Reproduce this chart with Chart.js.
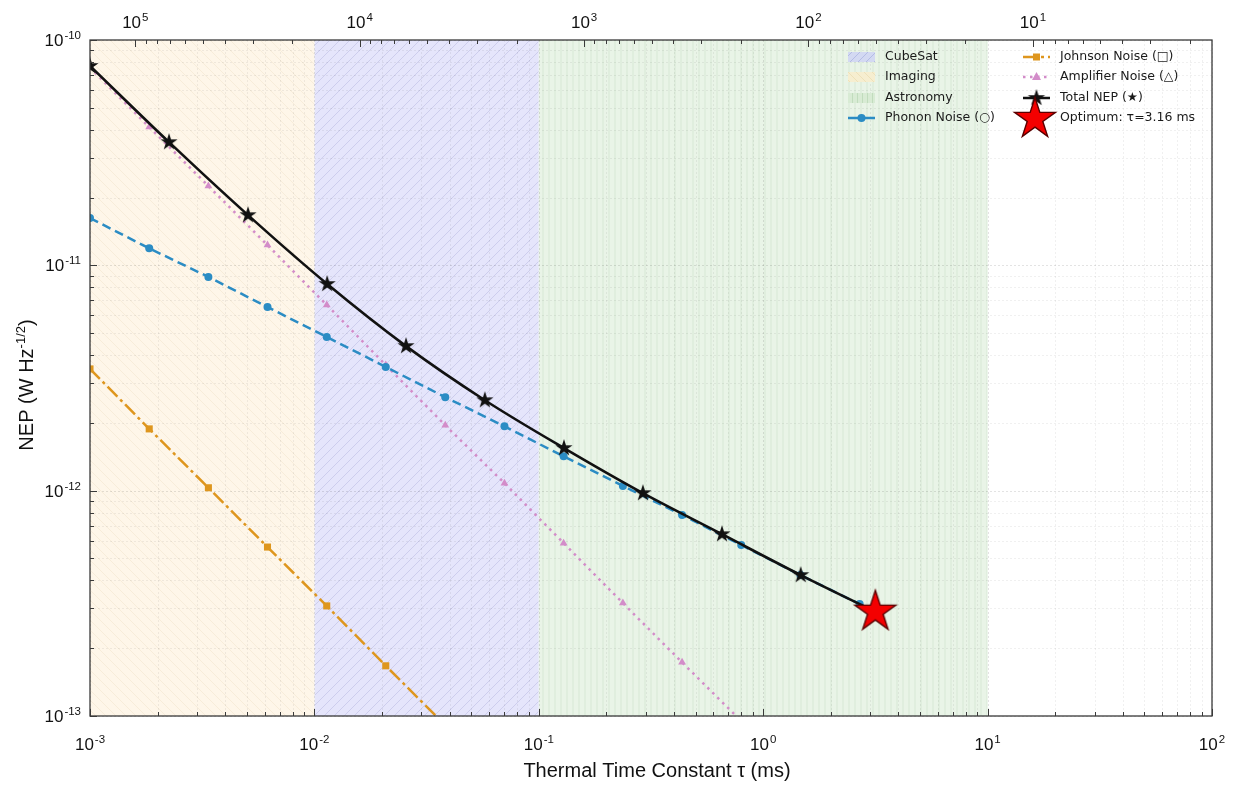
<!DOCTYPE html>
<html>
<head>
<meta charset="utf-8">
<script src="https://cdn.jsdelivr.net/npm/chart.js@4/dist/chart.umd.min.js"></script>
<style>
  html, body { margin: 0; padding: 0; background: #fff; }
  #wrap { width: 1235px; height: 786px; }
</style>
</head>
<body>
<div id="wrap"><canvas id="chart" width="1235" height="786"></canvas></div>
<script>
// total NEP, read at its star markers (tau in ms)
const tauTotal = [1e-3, 2.25e-3, 5.06e-3, 1.14e-2, 2.56e-2, 5.75e-2, 0.1295, 0.291, 0.655, 1.47, 3.16];
const nepTotal = [7.67e-11, 3.52e-11, 1.67e-11, 8.26e-12, 4.38e-12, 2.52e-12, 1.545e-12, 9.75e-13, 6.41e-13, 4.22e-13, 2.9e-13];

// the noise terms share their own marker positions
const tauNoise = [1e-3, 1.836e-3, 3.37e-3, 6.18e-3, 1.135e-2, 2.08e-2, 3.83e-2, 7.03e-2, 0.129, 0.237, 0.435, 0.798, 1.465, 2.69, 3.16];
const nepPhonon = [1.62e-11, 1.19e-11, 8.88e-12, 6.53e-12, 4.81e-12, 3.54e-12, 2.60e-12, 1.93e-12, 1.42e-12, 1.05e-12, 7.79e-13, 5.74e-13, 4.22e-13, 3.14e-13, 2.9e-13];
const nepAmplifier = [7.55e-11, 4.11e-11, 2.25e-11, 1.23e-11, 6.67e-12, 3.61e-12, 1.95e-12, 1.08e-12, 5.85e-13, 3.17e-13, 1.73e-13, 9.5e-14, 5.2e-14, 2.8e-14, 2.4e-14];
const nepJohnson = [3.47e-12, 1.88e-12, 1.03e-12, 5.62e-13, 3.08e-13, 1.67e-13, 9.1e-14, 4.9e-14];

const optimumTau = 3.16;
const optimumNep = 2.9e-13;

// application bands (ms)
const regionNames = ['CubeSat', 'Imaging', 'Astronomy'];
const regionFrom = [1e-2, 1e-3, 1e-1];
const regionTo = [1e-1, 1e-2, 1e1];

// tick exponents
const xExps = [-3, -2, -1, 0, 1, 2];
const yExps = [-13, -12, -11, -10];
const freqExps = [5, 4, 3, 2, 1];

const TAU_MIN = 1e-3, TAU_MAX = 1e2;
// top axis: f = 1 / (2 pi tau), tau in ms
const F_MIN = 1000 / (2 * Math.PI * TAU_MAX);
const F_MAX = 1000 / (2 * Math.PI * TAU_MIN);

const BLUE = '#2b8cc4', ORANGE = '#de961e', PINK = '#d38cc9', BLACK = '#111';

const ctx = document.getElementById('chart').getContext('2d');

function makeStar(r, fill, stroke, lw) {
  const pad = Math.ceil(lw) + 1;
  const size = Math.ceil(r) * 2 + pad * 2;
  const c = document.createElement('canvas');
  c.width = size; c.height = size;
  const g = c.getContext('2d');
  const cx = size / 2, cy = size / 2;
  g.beginPath();
  for (let i = 0; i < 10; i++) {
    const rr = i % 2 ? r * 0.382 : r;
    const a = -Math.PI / 2 + i * Math.PI / 5;
    const px = cx + rr * Math.cos(a), py = cy + rr * Math.sin(a);
    if (i) g.lineTo(px, py); else g.moveTo(px, py);
  }
  g.closePath();
  g.fillStyle = fill;
  g.fill();
  if (lw) { g.lineWidth = lw; g.strokeStyle = stroke; g.stroke(); }
  return c;
}
const blackStar = makeStar(9, BLACK, null, 0);
const redStar = makeStar(21.5, '#f40000', '#5a0000', 1.4);

function hatch(bg, line, kind, p) {
  const c = document.createElement('canvas');
  c.width = p; c.height = p;
  const g = c.getContext('2d');
  g.fillStyle = bg;
  g.fillRect(0, 0, p, p);
  g.strokeStyle = line;
  g.lineWidth = 1;
  g.beginPath();
  if (kind === '/') {
    g.moveTo(0, p); g.lineTo(p, 0);
    g.moveTo(-1, 1); g.lineTo(1, -1);
    g.moveTo(p - 1, p + 1); g.lineTo(p + 1, p - 1);
  } else if (kind === '\\') {
    g.moveTo(0, 0); g.lineTo(p, p);
    g.moveTo(p - 1, -1); g.lineTo(p + 1, 1);
    g.moveTo(-1, p - 1); g.lineTo(1, p + 1);
  } else {
    g.moveTo(p / 2, 0); g.lineTo(p / 2, p);
  }
  g.stroke();
  return ctx.createPattern(c, 'repeat');
}
const regionFill = [
  hatch('#e5e5fb', 'rgba(150,150,205,0.3)', '/', 10),
  hatch('#fef6e9', 'rgba(225,200,160,0.22)', '\\', 10),
  hatch('#e9f4e7', 'rgba(175,210,175,0.3)', '|', 6)
];
const swatchFill = [
  hatch('#d3d9f2', 'rgba(150,160,215,0.5)', '/', 8),
  hatch('#f6eed0', 'rgba(225,205,150,0.4)', '\\', 8),
  hatch('#d8ebd4', 'rgba(170,205,165,0.5)', '|', 5)
];

function pts(xs, ys) {
  return ys.map((v, i) => ({ x: xs[i], y: v }));
}

// 1..9 x 10^e inside [lo, hi]
function logMarks(lo, hi) {
  const out = [];
  for (let e = Math.floor(Math.log10(lo)); e <= Math.ceil(Math.log10(hi)); e++) {
    for (let m = 1; m <= 9; m++) {
      const v = m * Math.pow(10, e);
      if (v >= lo * 0.9999 && v <= hi * 1.0001) out.push({ v, major: m === 1 });
    }
  }
  return out;
}

const TICK_FONT = '"Liberation Sans", Arial, sans-serif';

function drawPower(g, exp, x, y, align) {
  g.font = '17px ' + TICK_FONT;
  const w1 = g.measureText('10').width;
  g.font = '11.5px ' + TICK_FONT;
  const w2 = g.measureText(String(exp)).width;
  const total = w1 + w2 + 1;
  const x0 = align === 'right' ? x - total : x - total / 2;
  g.textAlign = 'left';
  g.textBaseline = 'alphabetic';
  g.font = '17px ' + TICK_FONT;
  g.fillText('10', x0, y);
  g.font = '11.5px ' + TICK_FONT;
  g.fillText(String(exp), x0 + w1 + 1, y - 7);
}

const decor = {
  id: 'decor',
  beforeDatasetsDraw(chart) {
    const { ctx: g, chartArea: a, scales: { x, y } } = chart;
    g.save();
    // bands
    regionNames.forEach((n, i) => {
      const x0 = x.getPixelForValue(regionFrom[i]);
      const x1 = x.getPixelForValue(regionTo[i]);
      g.fillStyle = regionFill[i];
      g.fillRect(x0, a.top, x1 - x0, a.bottom - a.top);
    });
    // dotted grid, major and minor
    g.lineWidth = 0.8;
    g.setLineDash([2, 2]);
    logMarks(TAU_MIN, TAU_MAX).forEach(t => {
      const px = Math.round(x.getPixelForValue(t.v)) + 0.5;
      g.strokeStyle = t.major ? 'rgba(0,0,0,0.14)' : 'rgba(0,0,0,0.08)';
      g.beginPath(); g.moveTo(px, a.top); g.lineTo(px, a.bottom); g.stroke();
    });
    logMarks(1e-13, 1e-10).forEach(t => {
      const py = Math.round(y.getPixelForValue(t.v)) + 0.5;
      g.strokeStyle = t.major ? 'rgba(0,0,0,0.14)' : 'rgba(0,0,0,0.08)';
      g.beginPath(); g.moveTo(a.left, py); g.lineTo(a.right, py); g.stroke();
    });
    g.restore();
  },
  afterDatasetsDraw(chart) {
    const { ctx: g, chartArea: a, scales: { x, x2, y } } = chart;
    g.save();
    // frame
    g.strokeStyle = '#3a3a3a';
    g.lineWidth = 1.3;
    g.strokeRect(a.left, a.top, a.right - a.left, a.bottom - a.top);
    // inward ticks
    g.lineWidth = 1;
    g.beginPath();
    logMarks(TAU_MIN, TAU_MAX).forEach(t => {
      const px = Math.round(x.getPixelForValue(t.v)) + 0.5;
      g.moveTo(px, a.bottom); g.lineTo(px, a.bottom - (t.major ? 7 : 4));
    });
    logMarks(1e-13, 1e-10).forEach(t => {
      const py = Math.round(y.getPixelForValue(t.v)) + 0.5;
      g.moveTo(a.left, py); g.lineTo(a.left + (t.major ? 7 : 4), py);
    });
    logMarks(F_MIN, F_MAX).forEach(t => {
      const px = Math.round(x2.getPixelForValue(t.v)) + 0.5;
      g.moveTo(px, a.top); g.lineTo(px, a.top + (t.major ? 7 : 4));
    });
    g.stroke();

    // tick labels
    g.fillStyle = '#111';
    xExps.forEach(e => drawPower(g, e, x.getPixelForValue(Math.pow(10, e)), 750, 'center'));
    yExps.forEach(e => drawPower(g, e, 81, y.getPixelForValue(Math.pow(10, e)) + 6, 'right'));
    freqExps.forEach(e => drawPower(g, e, x2.getPixelForValue(Math.pow(10, e)), 28, 'center'));

    // axis titles
    g.font = '20px ' + TICK_FONT;
    g.textAlign = 'center';
    g.textBaseline = 'alphabetic';
    g.fillText('Thermal Time Constant \u03c4 (ms)', 657, 777);

    g.save();
    g.translate(33, 385);
    g.rotate(-Math.PI / 2);
    const p1 = 'NEP (W Hz', p2 = '-1/2', p3 = ')';
    g.font = '20px ' + TICK_FONT;
    const w1 = g.measureText(p1).width, w3 = g.measureText(p3).width;
    g.font = '13px ' + TICK_FONT;
    const w2 = g.measureText(p2).width;
    let cx = -(w1 + w2 + w3) / 2;
    g.textAlign = 'left';
    g.font = '20px ' + TICK_FONT;
    g.fillText(p1, cx, 0);
    g.font = '13px ' + TICK_FONT;
    g.fillText(p2, cx + w1, -8);
    g.font = '20px ' + TICK_FONT;
    g.fillText(p3, cx + w1 + w2, 0);
    g.restore();

    // legend
    const LF = '12.5px "DejaVu Sans", sans-serif';
    const rows = [57, 77, 98, 118];
    g.font = LF;
    g.textAlign = 'left';
    g.textBaseline = 'middle';
    regionNames.forEach((n, i) => {
      g.fillStyle = swatchFill[i];
      g.fillRect(848, rows[i] - 5, 27, 10);
      g.fillStyle = '#1a1a1a';
      g.fillText(n, 885, rows[i]);
    });
    // phonon sample
    g.strokeStyle = BLUE; g.lineWidth = 2.5; g.setLineDash([]);
    g.beginPath(); g.moveTo(848, rows[3]); g.lineTo(875, rows[3]); g.stroke();
    g.fillStyle = BLUE;
    g.beginPath(); g.arc(861.5, rows[3], 4, 0, Math.PI * 2); g.fill();
    g.fillStyle = '#1a1a1a';
    g.fillText('Phonon Noise (\u25cb)', 885, rows[3]);

    const lx0 = 1023, lx1 = 1050, mx = 1036.5;
    // johnson
    g.strokeStyle = ORANGE; g.setLineDash([14, 4, 3, 4]);
    g.beginPath(); g.moveTo(lx0, rows[0]); g.lineTo(lx1, rows[0]); g.stroke();
    g.setLineDash([]);
    g.fillStyle = ORANGE; g.fillRect(mx - 3.5, rows[0] - 3.5, 7, 7);
    // amplifier
    g.strokeStyle = PINK; g.setLineDash([2.5, 4.5]);
    g.beginPath(); g.moveTo(lx0, rows[1]); g.lineTo(lx1, rows[1]); g.stroke();
    g.setLineDash([]);
    g.fillStyle = PINK;
    g.beginPath(); g.moveTo(mx, rows[1] - 5); g.lineTo(mx + 4.5, rows[1] + 3); g.lineTo(mx - 4.5, rows[1] + 3); g.closePath(); g.fill();
    // total
    g.strokeStyle = BLACK;
    g.beginPath(); g.moveTo(lx0, rows[2]); g.lineTo(lx1, rows[2]); g.stroke();
    g.drawImage(blackStar, mx - blackStar.width / 2, rows[2] - blackStar.height / 2);
    // optimum
    g.drawImage(redStar, mx - 1.5 - redStar.width / 2, rows[3] + 1 - redStar.height / 2);

    g.fillStyle = '#1a1a1a';
    g.fillText('Johnson Noise (\u25a1)', 1060, rows[0]);
    g.fillText('Amplifier Noise (\u25b3)', 1060, rows[1]);
    g.fillText('Total NEP (\u2605)', 1060, rows[2]);
    g.fillText('Optimum: \u03c4=3.16 ms', 1060, rows[3]);
    g.restore();
  }
};

const totalRadius = nepTotal.map((v, i) => (i === nepTotal.length - 1 ? 0 : 5));
const phononRadius = nepPhonon.map((v, i) => (i === nepPhonon.length - 1 ? 0 : 4));
const ampRadius = nepAmplifier.map((v, i) => (i === nepAmplifier.length - 1 ? 0 : 4.5));

new Chart(ctx, {
  type: 'line',
  data: {
    datasets: [
      {
        label: 'Optimum: \u03c4=3.16 ms',
        data: [{ x: optimumTau, y: optimumNep }],
        showLine: false,
        pointStyle: redStar,
        pointRadius: 20,
        clip: 0
      },
      {
        label: 'Total NEP (\u2605)',
        data: pts(tauTotal, nepTotal),
        borderColor: BLACK,
        borderWidth: 2.6,
        pointStyle: blackStar,
        pointRadius: totalRadius,
        cubicInterpolationMode: 'monotone',
        clip: 0
      },
      {
        label: 'Phonon Noise (\u25cb)',
        data: pts(tauNoise, nepPhonon),
        borderColor: BLUE,
        borderWidth: 2.5,
        borderDash: [9, 5],
        pointStyle: 'circle',
        pointRadius: phononRadius,
        pointBackgroundColor: BLUE,
        pointBorderWidth: 0,
        clip: 0
      },
      {
        label: 'Amplifier Noise (\u25b3)',
        data: pts(tauNoise, nepAmplifier),
        borderColor: PINK,
        borderWidth: 2.5,
        borderDash: [2.5, 4.5],
        pointStyle: 'triangle',
        pointRadius: ampRadius,
        pointBackgroundColor: PINK,
        pointBorderWidth: 0,
        clip: 0
      },
      {
        label: 'Johnson Noise (\u25a1)',
        data: pts(tauNoise, nepJohnson),
        borderColor: ORANGE,
        borderWidth: 2.5,
        borderDash: [14, 4, 3, 4],
        pointStyle: 'rect',
        pointRadius: 5,
        pointBackgroundColor: ORANGE,
        pointBorderWidth: 0,
        clip: 0
      }
    ]
  },
  options: {
    responsive: false,
    animation: false,
    events: [],
    layout: { padding: { left: 0, right: 23, top: 0, bottom: 0 } },
    plugins: { legend: { display: false }, tooltip: { enabled: false } },
    scales: {
      x: {
        type: 'logarithmic', position: 'bottom', min: TAU_MIN, max: TAU_MAX,
        ticks: { display: false }, grid: { display: false }, border: { display: false },
        afterFit: s => { s.height = 70; }
      },
      x2: {
        type: 'logarithmic', position: 'top', reverse: true, min: F_MIN, max: F_MAX,
        ticks: { display: false }, grid: { display: false }, border: { display: false },
        afterFit: s => { s.height = 40; }
      },
      y: {
        type: 'logarithmic', min: 1e-13, max: 1e-10,
        ticks: { display: false }, grid: { display: false }, border: { display: false },
        afterFit: s => { s.width = 90; }
      }
    }
  },
  plugins: [decor]
});
</script>
</body>
</html>
